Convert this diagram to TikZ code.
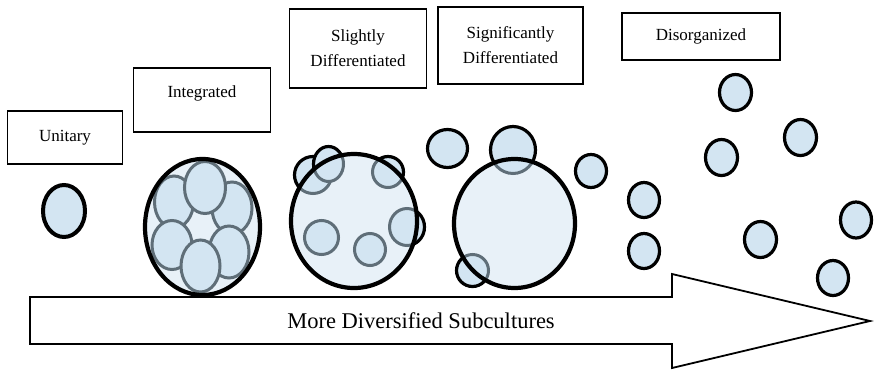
\documentclass[tikz,border=0pt]{standalone}
\usepackage{fontspec}
\setmainfont{Liberation Serif}
\definecolor{cblue}{HTML}{D3E5F2}
\definecolor{cpale}{HTML}{E8F1F8}
\definecolor{cgray}{HTML}{5F6E78}
\tikzset{
  labelbox/.style={draw=black, line width=1.8pt, fill=white, inner sep=0pt},
  lbl/.style={font=\fontsize{17}{25}\selectfont, align=center, inner sep=0pt},
  cell/.style={draw=black, line width=3.2pt, fill=cblue},
  innercell/.style={draw=cgray, line width=3pt, fill=cblue},
  bigbody/.style={fill=cpale},
  bigrim/.style={draw=black, line width=4.2pt},
  arrowshape/.style={draw=black, line width=1.8pt, fill=white, line join=miter}
}
\begin{document}
\begin{tikzpicture}[x=1pt,y=-1pt]
\useasboundingbox (0,0) rectangle (874,370);

% ---- label boxes ----
\node[labelbox, minimum width=115pt, minimum height=53pt] (unitarybox) at (65,137.5) {};
\node[lbl] (unitary) at (unitarybox.center) {Unitary};
\node[labelbox, minimum width=137pt, minimum height=64pt] (integratedbox) at (202,100) {};
\node[lbl] (integrated) at (202,93) {Integrated};
\node[labelbox, minimum width=137pt, minimum height=79pt] (slightlybox) at (358,48.5) {};
\node[lbl] (slightly) at (slightlybox.center) {Slightly\\Differentiated};
\node[labelbox, minimum width=145pt, minimum height=77pt] (significantlybox) at (510.5,45.5) {};
\node[lbl] (significantly) at (significantlybox.center) {Significantly\\Differentiated};
\node[labelbox, minimum width=158pt, minimum height=47pt] (disorganizedbox) at (701,36.5) {};
\node[lbl] (disorganized) at (disorganizedbox.center) {Disorganized};

% ---- arrow ----
\draw[arrowshape] (30,297) -- (672,297) -- (672,274) -- (870,321) -- (672,368) -- (672,344) -- (30,344) -- cycle;
\node[font=\fontsize{22.5}{26}\selectfont, inner sep=0pt] (arrowlabel) at (421,321) {More Diversified Subcultures};

% ---- unitary ----
\draw[cell, line width=4pt] (64,211) ellipse [x radius=21pt, y radius=26pt];

% ---- integrated ----
\fill[bigbody] (202.5,227) ellipse [x radius=57.5pt, y radius=68pt];
\begin{scope}
\clip (202.5,227) ellipse [x radius=57.5pt, y radius=68pt];
\draw[innercell] (174,202) ellipse [x radius=19.5pt, y radius=26pt];
\draw[innercell] (232,208) ellipse [x radius=20pt, y radius=26pt];
\draw[innercell] (172,245) ellipse [x radius=20pt, y radius=24.5pt];
\draw[innercell] (229,252) ellipse [x radius=20pt, y radius=26pt];
\draw[innercell] (205,187.5) ellipse [x radius=20.5pt, y radius=26pt];
\draw[innercell] (200.5,266) ellipse [x radius=19.5pt, y radius=26pt];
\end{scope}
\draw[bigrim] (202.5,227) ellipse [x radius=57.5pt, y radius=68pt];

% ---- slightly differentiated ----
\draw[cell] (313,175) ellipse [x radius=18.5pt, y radius=18.5pt];
\draw[cell] (328.5,164) ellipse [x radius=15pt, y radius=17.5pt];
\draw[cell] (388,172) ellipse [x radius=15.5pt, y radius=15.5pt];
\draw[cell] (407,227) ellipse [x radius=17.5pt, y radius=18.5pt];
\fill[bigbody] (354,221) ellipse [x radius=63pt, y radius=67pt];
\begin{scope}
\clip (354,221) ellipse [x radius=63pt, y radius=67pt];
\draw[innercell] (313,175) ellipse [x radius=18.5pt, y radius=18.5pt];
\draw[innercell] (328.5,164) ellipse [x radius=15pt, y radius=17.5pt];
\draw[innercell] (388,172) ellipse [x radius=15.5pt, y radius=15.5pt];
\draw[innercell] (407,227) ellipse [x radius=17.5pt, y radius=18.5pt];
\draw[innercell] (321.5,237.5) ellipse [x radius=17pt, y radius=17pt];
\draw[innercell] (370,249.5) ellipse [x radius=15.5pt, y radius=16pt];
\end{scope}
\draw[bigrim] (354,221) ellipse [x radius=63pt, y radius=67pt];

% ---- significantly differentiated ----
\draw[cell] (447.5,148.5) ellipse [x radius=20pt, y radius=19pt];
\draw[cell] (513,150) ellipse [x radius=22.5pt, y radius=23.5pt];
\draw[cell] (472.5,270.5) ellipse [x radius=16pt, y radius=16pt];
\draw[cell] (591,171) ellipse [x radius=15.5pt, y radius=16.5pt];
\fill[bigbody] (514.5,223.5) ellipse [x radius=60.5pt, y radius=64.5pt];
\begin{scope}
\clip (514.5,223.5) ellipse [x radius=60.5pt, y radius=64.5pt];
\draw[innercell] (513,150) ellipse [x radius=22.5pt, y radius=23.5pt];
\draw[innercell] (472.5,270.5) ellipse [x radius=16pt, y radius=16pt];
\end{scope}
\draw[bigrim] (514.5,223.5) ellipse [x radius=60.5pt, y radius=64.5pt];

% ---- disorganized ----
\draw[cell] (735.5,92.5) ellipse [x radius=16pt, y radius=18pt];
\draw[cell] (800.5,137.5) ellipse [x radius=16pt, y radius=18pt];
\draw[cell] (721.5,157.5) ellipse [x radius=16pt, y radius=18pt];
\draw[cell] (644,200) ellipse [x radius=15.5pt, y radius=17.5pt];
\draw[cell] (644,251) ellipse [x radius=15.5pt, y radius=17.5pt];
\draw[cell] (760.5,239.5) ellipse [x radius=16pt, y radius=18pt];
\draw[cell] (856,220) ellipse [x radius=15.5pt, y radius=18pt];
\draw[cell] (833,278) ellipse [x radius=15.5pt, y radius=17.5pt];
\end{tikzpicture}
\end{document}
